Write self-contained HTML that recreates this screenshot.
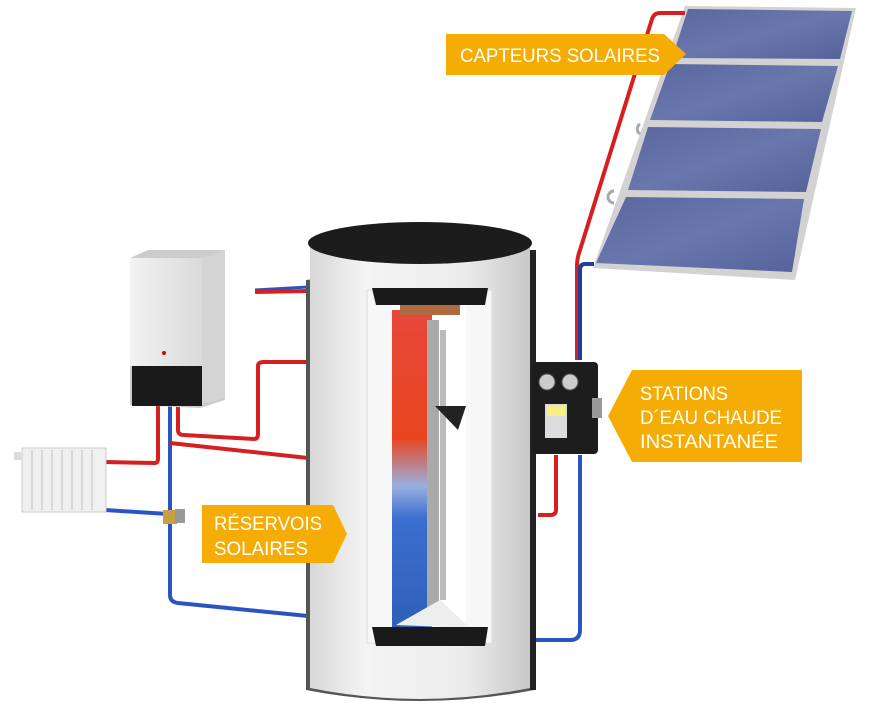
<!DOCTYPE html>
<html><head><meta charset="utf-8"><style>
html,body{margin:0;padding:0;background:#fff;}
svg{display:block;}
text{font-family:"Liberation Sans",sans-serif;fill:#fff;}
</style></head><body>
<svg width="880" height="713" viewBox="0 0 880 713" xmlns="http://www.w3.org/2000/svg">
<defs>
<linearGradient id="tank" x1="0" x2="1" y1="0" y2="0">
<stop offset="0" stop-color="#d8d8d8"/><stop offset="0.25" stop-color="#f4f4f4"/><stop offset="0.7" stop-color="#ececec"/><stop offset="1" stop-color="#c8c8c8"/></linearGradient>
<linearGradient id="water" x1="0" x2="0" y1="0" y2="1">
<stop offset="0" stop-color="#e8463a"/><stop offset="0.4" stop-color="#e8451f"/><stop offset="0.55" stop-color="#9ab0e0"/><stop offset="0.65" stop-color="#3a6fd0"/><stop offset="1" stop-color="#2f5fb8"/></linearGradient>
<linearGradient id="panel" x1="0" x2="1" y1="0" y2="1">
<stop offset="0" stop-color="#5a679f"/><stop offset="0.5" stop-color="#6a77ad"/><stop offset="1" stop-color="#55629a"/></linearGradient>
<linearGradient id="boiler" x1="0" x2="1"><stop offset="0" stop-color="#f2f2f2"/><stop offset="1" stop-color="#dadada"/></linearGradient>
</defs>

<!-- solar panels -->
<polygon points="685,6 856,8 795,280 593,268" fill="#d2d2d2"/>
<polygon points="688,9 852,11 840,59 672,58" fill="url(#panel)"/>
<polygon points="670,64 838,66 822,122 650,120" fill="url(#panel)"/>
<polygon points="648,127 821,129 806,192 628,190" fill="url(#panel)"/>
<polygon points="626,197 804,199 792,272 596,263" fill="url(#panel)"/>
<path d="M640,124 a6,6 0 0 0 0,10" stroke="#aaa" stroke-width="3" fill="none"/>
<path d="M614,191 a6,6 0 0 0 0,12" stroke="#aaa" stroke-width="3" fill="none"/>

<!-- right pipes -->
<path d="M685,13 L660,13 Q654,13 652,19 L580,250 Q577,258 577,265 L577,360" stroke="#d62020" stroke-width="4" fill="none"/>
<path d="M594,264 L585,264 Q580,264 580,270 L580,360" stroke="#1f3f9a" stroke-width="4" fill="none"/>
<path d="M580,455 L580,630 Q580,640 570,640 L536,640" stroke="#2a55c0" stroke-width="4" fill="none"/>
<path d="M556,455 L556,510 Q556,515 550,515 L538,515" stroke="#d62020" stroke-width="4" fill="none"/>

<!-- left pipes -->
<path d="M105,462 L155,463 Q158,463 158,458 L158,405" stroke="#d62020" stroke-width="4" fill="none"/>
<path d="M105,510 L168,514" stroke="#2a55c0" stroke-width="4" fill="none"/>
<path d="M170,405 L170,595 Q170,602 178,603 L308,616" stroke="#2a55c0" stroke-width="4" fill="none"/>
<path d="M178,405 L178,430 Q178,435 184,435 L254,439 Q258,439 258,434 L258,366 Q258,362 264,362 L308,362" stroke="#d62020" stroke-width="4" fill="none"/>
<path d="M170,443 L308,458" stroke="#d62020" stroke-width="4" fill="none"/>
<path d="M255,290 L308,287" stroke="#2a55c0" stroke-width="3" fill="none"/>
<path d="M255,292 L308,291" stroke="#d62020" stroke-width="4" fill="none"/>
<rect x="163" y="510" width="14" height="14" fill="#c8a040"/>
<rect x="175" y="509" width="10" height="14" fill="#999"/>

<!-- tank -->
<path d="M306,280 L306,690 Q420,712 534,690 L536,255 Z" fill="#555"/>
<path d="M310,245 L310,688 Q420,710 530,688 L530,245 Z" fill="url(#tank)"/>
<ellipse cx="420" cy="243" rx="112" ry="21" fill="#1c1c1c"/>
<rect x="530" y="250" width="6" height="440" fill="#222"/>
<!-- window -->
<rect x="367" y="290" width="125" height="353" fill="#f7f7f7" stroke="#ddd"/>
<rect x="392" y="302" width="74" height="330" fill="#ffffff"/>
<rect x="392" y="310" width="40" height="320" fill="url(#water)"/>
<rect x="400" y="300" width="60" height="15" fill="#b06a40"/>
<rect x="427" y="320" width="12" height="300" fill="#aaa"/>
<path d="M443,330 L443,600" stroke="#bbb" stroke-width="6"/>
<polygon points="435,406 466,406 458,430" fill="#222"/>
<path d="M396,625 L440,600 L470,628 Z" fill="#eee"/>
<path d="M372,288 L488,288 L485,305 L376,305 Z" fill="#1a1a1a"/>
<path d="M372,627 L488,627 L485,646 L376,646 Z" fill="#1a1a1a"/>

<!-- station -->
<rect x="532" y="362" width="66" height="92" rx="4" fill="#1d1d1d"/>
<circle cx="547" cy="382" r="8" fill="#ccc" stroke="#555"/>
<circle cx="570" cy="382" r="8" fill="#ccc" stroke="#555"/>
<rect x="545" y="404" width="22" height="34" fill="#ddd"/>
<rect x="547" y="406" width="18" height="10" fill="#f5f080"/>
<rect x="592" y="398" width="10" height="20" fill="#999"/>

<!-- boiler -->
<polygon points="130,258 148,250 225,250 225,400 200,408 130,405" fill="#ccc"/>
<rect x="130" y="258" width="72" height="108" fill="url(#boiler)"/>
<polygon points="202,258 225,250 225,398 202,404" fill="#d4d4d4"/>
<rect x="132" y="366" width="70" height="40" fill="#1a1a1a"/>
<circle cx="164" cy="353" r="2" fill="#d00"/>

<!-- radiator -->
<rect x="22" y="448" width="84" height="64" fill="#f0f0f0" stroke="#ccc"/>
<g stroke="#d0d0d0" stroke-width="1.5">
<line x1="32" y1="450" x2="32" y2="510"/><line x1="42" y1="450" x2="42" y2="510"/><line x1="52" y1="450" x2="52" y2="510"/><line x1="62" y1="450" x2="62" y2="510"/><line x1="72" y1="450" x2="72" y2="510"/><line x1="82" y1="450" x2="82" y2="510"/><line x1="92" y1="450" x2="92" y2="510"/></g>
<rect x="14" y="452" width="9" height="8" fill="#ddd"/>

<!-- labels -->
<polygon points="446,34 664,34 686,54 664,75 446,75" fill="#f5ad05"/>
<text x="460" y="62" font-size="19" textLength="200" lengthAdjust="spacingAndGlyphs">CAPTEURS SOLAIRES</text>
<polygon points="632,370 802,370 802,462 632,462 608,416" fill="#f5ad05"/>
<text x="640" y="400" font-size="19" textLength="88" lengthAdjust="spacingAndGlyphs">STATIONS</text>
<text x="640" y="424" font-size="19" textLength="142" lengthAdjust="spacingAndGlyphs">D´EAU CHAUDE</text>
<text x="640" y="448" font-size="19" textLength="138" lengthAdjust="spacingAndGlyphs">INSTANTANÉE</text>
<polygon points="202,505 333,505 347,534 333,563 202,563" fill="#f5ad05"/>
<text x="214" y="530" font-size="19" textLength="108" lengthAdjust="spacingAndGlyphs">RÉSERVOIS</text>
<text x="214" y="555" font-size="19" textLength="94" lengthAdjust="spacingAndGlyphs">SOLAIRES</text>
</svg>
</body></html>
